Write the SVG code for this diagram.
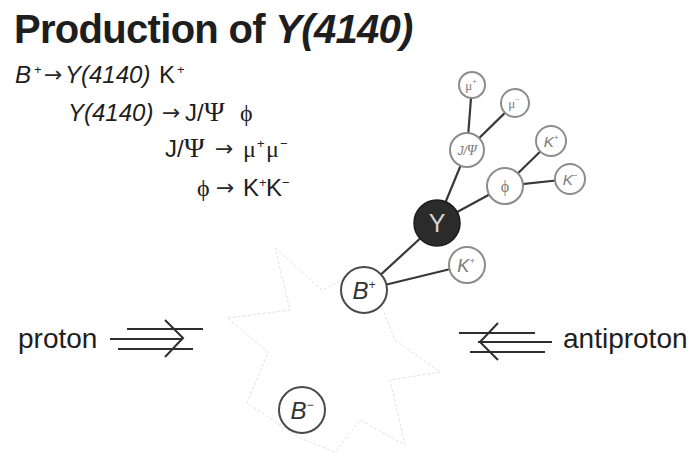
<svg xmlns="http://www.w3.org/2000/svg" width="695" height="452" viewBox="0 0 695 452">
  <style>
    .sans { font-family: "Liberation Sans", Arial, Helvetica, sans-serif; }
    .serif { font-family: "Liberation Serif", "DejaVu Serif", serif; }
    .arrow { font-family: "DejaVu Sans", sans-serif; font-size: 22px; fill: #2a2a2a; }
    .title { font-size: 40px; font-weight: bold; fill: #1e1e1e; letter-spacing: -0.7px; }
    .eq { font-size: 24px; fill: #1e1e1e; }
    .sup { font-size: 13px; }
    .beam { font-size: 28px; fill: #1e1e1e; }
    .ring { fill: #ffffff; stroke: #8c8c8c; stroke-width: 2; }
    .ring-dark { fill: #ffffff; stroke: #4a4a4a; stroke-width: 2; }
    .core { fill: #2b2b2b; stroke: #1a1a1a; stroke-width: 1.5; }
    .lbl { text-anchor: middle; fill: #7a7a7a; }
    .lbl-dark { text-anchor: middle; fill: #333333; }
    .conn line { stroke: #383838; stroke-width: 2.2; stroke-linecap: round; }
    .beams line, .beams polyline { stroke: #2e2e2e; stroke-width: 2; fill: none; }
    .burst { fill: none; stroke: #e2e2e2; stroke-width: 1; stroke-dasharray: 3 2; }
  </style>

  <rect width="695" height="452" fill="#ffffff"/>

  <!-- title -->
  <text class="sans title" x="14" y="43">Production of <tspan font-style="italic">Y(4140)</tspan></text>

  <!-- decay chain, one line per step -->
  <g class="sans eq">
    <text x="15" y="83" font-style="italic">B</text>
    <text class="sup" x="34" y="74">+</text>
    <text class="arrow" x="44" y="82">→</text>
    <text x="65" y="83" font-style="italic">Y(4140)</text>
    <text x="159" y="83">K</text>
    <text class="sup" x="177" y="74">+</text>

    <text x="68" y="121" font-style="italic">Y(4140)</text>
    <text class="arrow" x="162" y="120">→</text>
    <text x="185" y="121">J/</text>
    <text class="serif" x="204" y="121" font-size="28">Ψ</text>
    <text class="serif" x="240" y="121">ϕ</text>

    <text x="165" y="157">J/</text>
    <text class="serif" x="184" y="157" font-size="28">Ψ</text>
    <text class="arrow" x="215" y="156">→</text>
    <text class="serif" x="243" y="157">μ</text>
    <text class="sup" x="257" y="148">+</text>
    <text class="serif" x="266" y="157">μ</text>
    <text class="sup" x="280" y="148">−</text>

    <text class="serif" x="197" y="196">ϕ</text>
    <text class="arrow" x="216" y="195">→</text>
    <text x="243" y="196">K</text>
    <text class="sup" x="259" y="187">+</text>
    <text x="266" y="196">K</text>
    <text class="sup" x="282" y="187">−</text>
  </g>

  <!-- collision burst -->
  <polygon class="burst" points="275,248 322,290 366,268 395,340 440,372 390,380 405,445 360,420 335,452 300,438 247,403 268,352 227,318 290,310"/>

  <!-- beams -->
  <g class="beams">
    <line x1="127" y1="329" x2="203" y2="329"/>
    <line x1="110" y1="339" x2="183" y2="339"/>
    <line x1="118" y1="349" x2="193" y2="349"/>
    <polyline points="165,320 183,338 165,357"/>
    <line x1="459" y1="333" x2="535" y2="333"/>
    <line x1="478" y1="342" x2="552" y2="342"/>
    <line x1="470" y1="352" x2="545" y2="352"/>
    <polyline points="498,323 480,342 498,360"/>
  </g>
  <text class="sans beam" x="18" y="348">proton</text>
  <text class="sans beam" x="563" y="348">antiproton</text>

  <!-- connectors -->
  <g id="connectors" class="conn">
    <line x1="472" y1="85" x2="467" y2="150"/>
    <line x1="515" y1="103" x2="467" y2="150"/>
    <line x1="467" y1="150" x2="437" y2="223"/>
    <line x1="551" y1="141" x2="505" y2="186"/>
    <line x1="570" y1="179" x2="505" y2="186"/>
    <line x1="505" y1="186" x2="437" y2="223"/>
    <line x1="437" y1="223" x2="364" y2="290"/>
    <line x1="364" y1="290" x2="467" y2="265"/>
  </g>

  <!-- particles -->
  <g id="mu-plus">
    <circle class="ring" cx="472" cy="85" r="13"/>
    <text class="serif lbl" x="471" y="90" font-size="13">μ<tspan font-size="8" dy="-6">+</tspan></text>
  </g>
  <g id="mu-minus">
    <circle class="ring" cx="515" cy="103" r="14"/>
    <text class="serif lbl" x="514" y="108" font-size="13">μ<tspan font-size="8" dy="-6">−</tspan></text>
  </g>
  <g id="jpsi">
    <circle class="ring" cx="467" cy="150" r="17"/>
    <text class="sans lbl" x="467" y="155" font-size="12" font-style="italic">J/<tspan class="serif" font-size="14">Ψ</tspan></text>
  </g>
  <g id="k-plus-phi">
    <circle class="ring" cx="551" cy="141" r="15"/>
    <text class="sans lbl" x="551" y="147" font-size="15" font-style="italic">K<tspan font-size="8" dy="-7">+</tspan></text>
  </g>
  <g id="phi">
    <circle class="ring" cx="505" cy="186" r="18"/>
    <text class="serif lbl" x="505" y="192" font-size="16">ϕ</text>
  </g>
  <g id="k-minus">
    <circle class="ring" cx="570" cy="179" r="15"/>
    <text class="sans lbl" x="570" y="185" font-size="15" font-style="italic">K<tspan font-size="8" dy="-7">−</tspan></text>
  </g>
  <g id="y4140">
    <circle class="core" cx="437" cy="223" r="23"/>
    <text class="sans" x="437" y="232" font-size="25" fill="#d4d4d4" text-anchor="middle">Y</text>
  </g>
  <g id="k-plus">
    <circle class="ring" cx="467" cy="265" r="18"/>
    <text class="sans lbl" x="466" y="272" font-size="18" font-style="italic">K<tspan font-size="9" dy="-8">+</tspan></text>
  </g>
  <g id="b-plus">
    <circle class="ring-dark" cx="364" cy="290" r="23"/>
    <text class="sans lbl-dark" x="364" y="299" font-size="24" font-style="italic">B<tspan font-size="12" dy="-10">+</tspan></text>
  </g>
  <g id="b-minus">
    <circle class="ring-dark" cx="302" cy="410" r="23"/>
    <text class="sans lbl-dark" x="302" y="419" font-size="24" font-style="italic">B<tspan font-size="12" dy="-10">−</tspan></text>
  </g>
</svg>
